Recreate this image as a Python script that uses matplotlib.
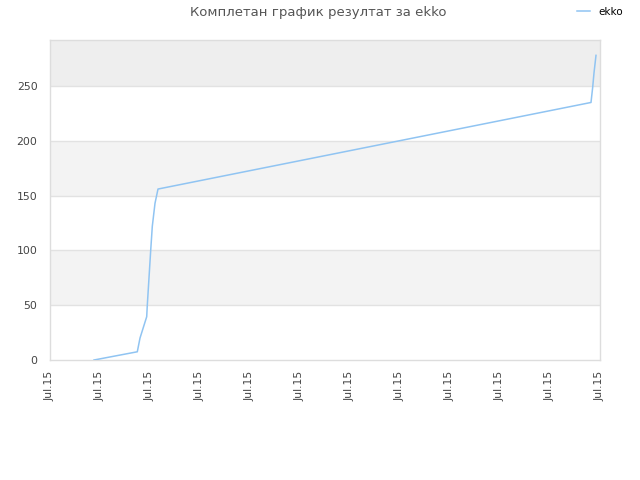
import matplotlib
matplotlib.use('Agg')
import matplotlib.pyplot as plt

# data (x in tick units, 12 ticks all "Jul.15")
x_vals = [0.88, 1.746, 1.80, 1.934, 1.946, 2.014, 2.046, 2.10, 2.16,
          10.82, 10.854, 10.88, 10.92]
y_vals = [0, 7.5, 20, 39.5, 50, 100, 122, 143, 156,
          235, 249, 262, 278]
tick_labels = ['Jul.15'] * 12
y_ticks = [0, 50, 100, 150, 200, 250]

plt.rcParams['font.family'] = ['DejaVu Sans']

fig = plt.figure(figsize=(6.4, 4.8), dpi=100)
ax = fig.add_axes([50 / 640, 120 / 480, 550 / 640, 320 / 480])

ymax = 292
# alternating bands
ax.axhspan(50, 100, color='#f3f3f3', zorder=0, lw=0)
ax.axhspan(150, 200, color='#f3f3f3', zorder=0, lw=0)
ax.axhspan(250, ymax, color='#eeeeee', zorder=0, lw=0)
for yv in y_ticks[1:]:
    ax.axhline(yv, color='#e2e2e2', lw=1, zorder=1)

ax.plot(x_vals, y_vals, color='#90c4f2', lw=1.1, zorder=3, label='ekko')

ax.set_xlim(0, 11)
ax.set_ylim(0, ymax)
ax.set_xticks(range(12))
ax.set_xticklabels(tick_labels, rotation=90, fontsize=7.8, color='#444444')
ax.set_yticks(y_ticks)
ax.set_yticklabels([str(v) for v in y_ticks], fontsize=7.8, color='#444444')
ax.tick_params(axis='x', length=0, pad=8)
ax.tick_params(axis='y', length=0, pad=9)

for s in ax.spines.values():
    s.set_color('#dddddd')
    s.set_linewidth(1)

fig.text(0.497, 0.988, 'Комплетан график резултат за ekko', ha='center', va='top',
         fontsize=9.5, color='#555555')
fig.legend(loc='upper right', bbox_to_anchor=(0.988, 1.005), frameon=False,
           fontsize=7.5, handlelength=1.2, handletextpad=0.8)

fig.savefig('out.png', dpi=100)
